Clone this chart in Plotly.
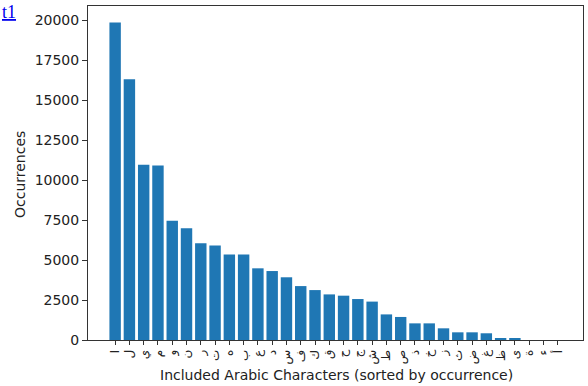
import plotly.graph_objects as go

# Data
characters = ["ا", "ل", "ي", "م", "و", "ن", "ر", "ت", "ه", "ب", "ع", "د", "س", "ف", "ك", "ق",
              "ح", "ج", "ش", "ط", "ص", "ذ", "خ", "ز", "ث", "ض", "غ", "ظ", "ى", "ة", "ء", "أ"]
occurrences = [19850, 16300, 10950, 10900, 7450, 6980, 6040, 5900, 5350, 5350, 4480, 4310,
               3920, 3370, 3120, 2850, 2770, 2560, 2400, 1600, 1440, 1040, 1040, 730,
               480, 480, 420, 100, 80, 0, 0, 0]
y_ticks = [0, 2500, 5000, 7500, 10000, 12500, 15000, 17500, 20000]
y_tick_labels = [str(v) for v in y_ticks]

positions = list(range(len(characters)))

fig = go.Figure()
fig.add_trace(go.Bar(
    x=positions, y=occurrences, width=0.8,
    marker=dict(color="#1f77b4", line=dict(width=0)),
))

axis_color = "#333333"
font_main = "DejaVu Sans"
text_color = "#222222"

L, R, T, B = 88, 5, 6, 46
W, H = 588, 386
pw, ph = W - L - R, H - T - B

fig.update_layout(
    width=W, height=H,
    margin=dict(l=L, r=R, t=T, b=B, autoexpand=False),
    paper_bgcolor="white", plot_bgcolor="white",
    showlegend=False,
    font=dict(family=font_main, size=14, color=text_color),
)

fig.update_xaxes(
    range=[-1.9, 32.77],
    tickmode="array", tickvals=positions, ticktext=characters,
    tickangle=-90,
    tickfont=dict(family=font_main, size=12, color=text_color),
    ticks="outside", ticklen=4, tickcolor=axis_color,
    showline=True, linecolor=axis_color, linewidth=1, mirror=True,
    showgrid=False, zeroline=False, automargin=False,
)

fig.update_yaxes(
    range=[0, 20875],
    tickmode="array", tickvals=y_ticks, ticktext=y_tick_labels,
    tickfont=dict(family=font_main, size=14, color=text_color),
    ticks="outside", ticklen=5, tickcolor=axis_color,
    showline=True, linecolor=axis_color, linewidth=1, mirror=True,
    showgrid=False, zeroline=False, automargin=False,
)

# Axis titles placed as annotations in pixel-matched positions
fig.add_annotation(
    text="Included Arabic Characters (sorted by occurrence)",
    xref="paper", yref="paper", x=(336 - L) / pw, y=-(375 - (T + ph)) / ph,
    xanchor="center", yanchor="middle", showarrow=False,
    font=dict(family=font_main, size=14, color=text_color),
)
fig.add_annotation(
    text="Occurrences", textangle=-90,
    xref="paper", yref="paper", x=-(L - 20) / pw, y=(T + ph - 175) / ph,
    xanchor="center", yanchor="middle", showarrow=False,
    font=dict(family=font_main, size=14, color=text_color),
)

# Stray link text in the top-left corner of the original screenshot
fig.add_annotation(
    text="<u>t1</u>", xref="paper", yref="paper",
    x=-L / pw, y=1 + T / ph, xanchor="left", yanchor="top",
    showarrow=False,
    font=dict(family="Liberation Serif", size=18, color="#0000ee"),
)

fig.write_html("out.html", config={"displayModeBar": False},
               post_script="document.body.style.margin='0';")
